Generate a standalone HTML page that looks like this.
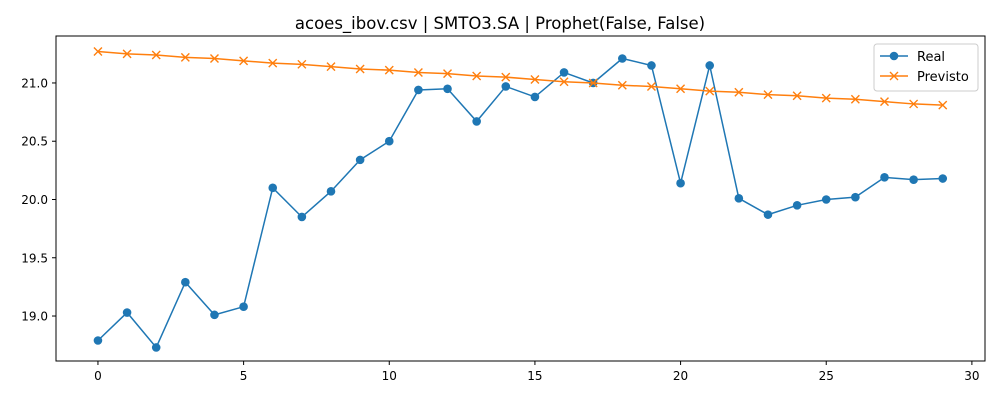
<!DOCTYPE html>
<html><head><meta charset="utf-8"><style>
body{margin:0;background:#fff;font-family:"Liberation Sans","DejaVu Sans",sans-serif}
svg text{font-family:"DejaVu Sans","Liberation Sans",sans-serif}
</style></head><body>
<svg id="c" width="1000" height="400" xmlns="http://www.w3.org/2000/svg"></svg>
<script>
const xTicks=[0,5,10,15,20,25,30];
const yTicks=[19.0,19.5,20.0,20.5,21.0];
const real=[18.79,19.03,18.73,19.29,19.01,19.08,20.10,19.85,20.07,20.34,20.50,20.94,20.95,20.67,20.97,20.88,21.09,21.00,21.21,21.15,20.14,21.15,20.01,19.87,19.95,20.00,20.02,20.19,20.17,20.18];
const previsto=[21.27,21.25,21.24,21.22,21.21,21.19,21.17,21.16,21.14,21.12,21.11,21.09,21.08,21.06,21.05,21.03,21.01,21.00,20.98,20.97,20.95,20.93,20.92,20.90,20.89,20.87,20.86,20.84,20.82,20.81];
const L=56,R=985,T=36,B=361;
const xmin=-1.44,xmax=30.45,ymin=18.614,ymax=21.403;
const sx=v=>L+(v-xmin)/(xmax-xmin)*(R-L);
const sy=v=>B-(v-ymin)/(ymax-ymin)*(B-T);
const svg=document.getElementById('c');const NS='http://www.w3.org/2000/svg';
function mk(t,a,p){const e=document.createElementNS(NS,t);for(const k in a)e.setAttribute(k,a[k]);(p||svg).appendChild(e);return e;}
let e;
e=mk('text',{x:500,y:29,'text-anchor':'middle','font-size':16.5,fill:'#000'});e.textContent='acoes_ibov.csv | SMTO3.SA | Prophet(False, False)';


xTicks.forEach(v=>{const x=sx(v);mk('line',{x1:x,x2:x,y1:B,y2:B+4,stroke:'#000'});
const t=mk('text',{x:x,y:B+19,'text-anchor':'middle','font-size':12});t.textContent=v;

});
yTicks.forEach(v=>{const y=sy(v);mk('line',{x1:L-4,x2:L,y1:y,y2:y,stroke:'#000'});
const t=mk('text',{x:L-8,y:y+4.5,'text-anchor':'end','font-size':12});t.textContent=v.toFixed(1);

});
function series(arr,color,marker,name){
const pts=arr.map((v,i)=>sx(i)+','+sy(v)).join(' ');
const g=mk('g',{});


mk('polyline',{points:pts,fill:'none',stroke:color,'stroke-width':1.5},g);
arr.forEach((v,i)=>{const x=sx(i),y=sy(v);
if(marker==='o')mk('circle',{cx:x,cy:y,r:4.3,fill:color},g);
else{mk('path',{d:`M${x-4},${y-4}L${x+4},${y+4}M${x-4},${y+4}L${x+4},${y-4}`,stroke:color,'stroke-width':1.4},g);}});}
series(real,'#1f77b4','o','real-series');
series(previsto,'#ff7f0e','x','previsto-series');
e=mk('rect',{x:L,y:T,width:R-L,height:B-T,fill:'none',stroke:'#000','stroke-width':1});


const lg=mk('g',{});


mk('rect',{x:874,y:44,width:104,height:47,rx:3,fill:'#fff',stroke:'#ccc'},lg);
mk('line',{x1:880,x2:908,y1:56,y2:56,stroke:'#1f77b4','stroke-width':1.5},lg);
mk('circle',{cx:894,cy:56,r:4.3,fill:'#1f77b4'},lg);
e=mk('text',{x:917,y:61,'font-size':13},lg);e.textContent='Real';
mk('line',{x1:880,x2:908,y1:76,y2:76,stroke:'#ff7f0e','stroke-width':1.5},lg);
mk('path',{d:'M890,72L898,80M890,80L898,72',stroke:'#ff7f0e','stroke-width':1.4},lg);
e=mk('text',{x:917,y:81,'font-size':13},lg);e.textContent='Previsto';
</script>
</body></html>
